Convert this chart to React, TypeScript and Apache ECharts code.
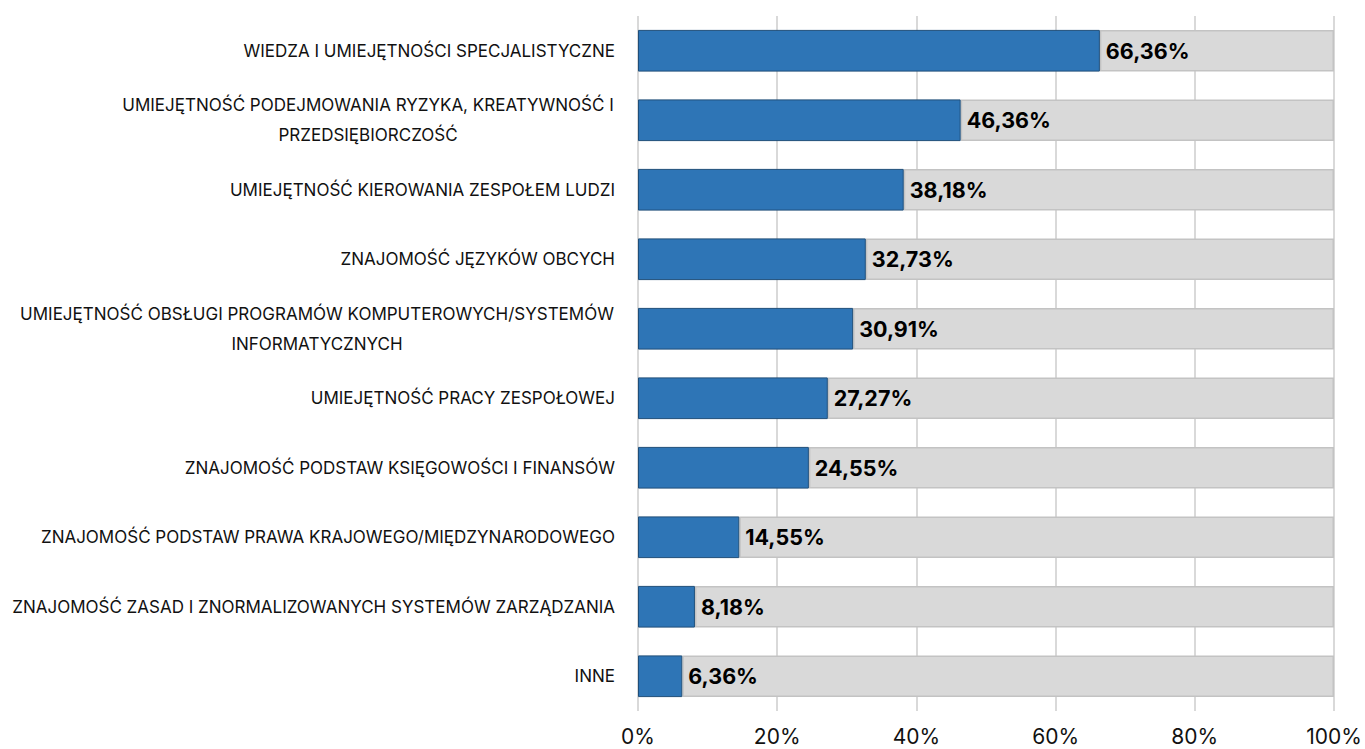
import React, { useEffect, useRef } from "react";
import * as echarts from "echarts";

const categories = [
  "WIEDZA I UMIEJĘTNOŚCI SPECJALISTYCZNE",
  "UMIEJĘTNOŚĆ PODEJMOWANIA RYZYKA, KREATYWNOŚĆ I\nPRZEDSIĘBIORCZOŚĆ",
  "UMIEJĘTNOŚĆ KIEROWANIA ZESPOŁEM LUDZI",
  "ZNAJOMOŚĆ JĘZYKÓW OBCYCH",
  "UMIEJĘTNOŚĆ OBSŁUGI PROGRAMÓW KOMPUTEROWYCH/SYSTEMÓW\nINFORMATYCZNYCH",
  "UMIEJĘTNOŚĆ PRACY ZESPOŁOWEJ",
  "ZNAJOMOŚĆ PODSTAW KSIĘGOWOŚCI I FINANSÓW",
  "ZNAJOMOŚĆ PODSTAW PRAWA KRAJOWEGO/MIĘDZYNARODOWEGO",
  "ZNAJOMOŚĆ ZASAD I ZNORMALIZOWANYCH SYSTEMÓW ZARZĄDZANIA",
  "INNE",
];

const values = [66.36, 46.36, 38.18, 32.73, 30.91, 27.27, 24.55, 14.55, 8.18, 6.36];

const xTicks = [0, 20, 40, 60, 80, 100];

const LABEL_FONT = "Inter";
const LABEL_SIZE = 17;

function measure(text: string): number {
  const c = document.createElement("canvas").getContext("2d");
  if (!c) return text.length * 10;
  c.font = `${LABEL_SIZE}px "${LABEL_FONT}"`;
  return c.measureText(text).width;
}

export default function App() {
  const ref = useRef<HTMLDivElement>(null);

  useEffect(() => {
    if (!ref.current) return;
    const chart = echarts.init(ref.current, null, { renderer: "svg" });
    const rest = values.map((v) => +(100 - v).toFixed(2));

    const richStyles: Record<string, any> = {};
    const keyFor: Record<string, string> = {};
    categories.forEach((cat, i) => {
      const lines = cat.split("\n");
      if (lines.length > 1) {
        const w = Math.ceil(Math.max(...lines.map(measure))) + 2;
        const key = "c" + i;
        keyFor[cat] = key;
        richStyles[key] = {
          width: w,
          align: "center",
          fontFamily: LABEL_FONT,
          fontSize: LABEL_SIZE,
          color: "#111",
          lineHeight: 30,
        };
      }
    });

    chart.setOption({
      animation: false,
      grid: { left: 638, right: 31, top: 16, bottom: 38, containLabel: false },
      xAxis: {
        type: "value",
        min: xTicks[0],
        max: xTicks[xTicks.length - 1],
        interval: 20,
        axisLine: { show: false },
        axisTick: { show: false },
        splitLine: { show: true, lineStyle: { color: "#d9d9d9", width: 2 } },
        axisLabel: {
          formatter: "{value}%",
          fontFamily: LABEL_FONT,
          fontSize: 21,
          color: "#111",
          margin: 15,
        },
      },
      yAxis: {
        type: "category",
        data: categories,
        inverse: true,
        axisLine: { show: false },
        axisTick: { show: false },
        splitLine: { show: false },
        axisLabel: {
          margin: 23,
          fontFamily: LABEL_FONT,
          fontSize: LABEL_SIZE,
          color: "#111",
          lineHeight: 30,
          formatter: (val: string) => {
            const key = keyFor[val];
            if (!key) return val;
            return val
              .split("\n")
              .map((l) => `{${key}|${l}}`)
              .join("\n");
          },
          rich: richStyles,
        },
      },
      series: [
        {
          type: "bar",
          stack: "total",
          data: values,
          barWidth: "60%",
          itemStyle: { color: "#2e75b6", borderColor: "#1f4e79", borderWidth: 1 },
          label: {
            show: true,
            position: "right",
            distance: 6,
            formatter: (p: any) => p.value.toFixed(2).replace(".", ",") + "%",
            fontFamily: LABEL_FONT,
            fontWeight: "bold",
            fontSize: 21.5,
            color: "#000",
          },
          z: 3,
        },
        {
          type: "bar",
          stack: "total",
          data: rest,
          barWidth: "60%",
          itemStyle: { color: "#d9d9d9", borderColor: "#c3c3c3", borderWidth: 1.5 },
          z: 2,
        },
      ],
    });

    return () => chart.dispose();
  }, []);

  return <div ref={ref} style={{ width: 1365, height: 749, position: "absolute", left: 0, top: 0 }} />;
}
